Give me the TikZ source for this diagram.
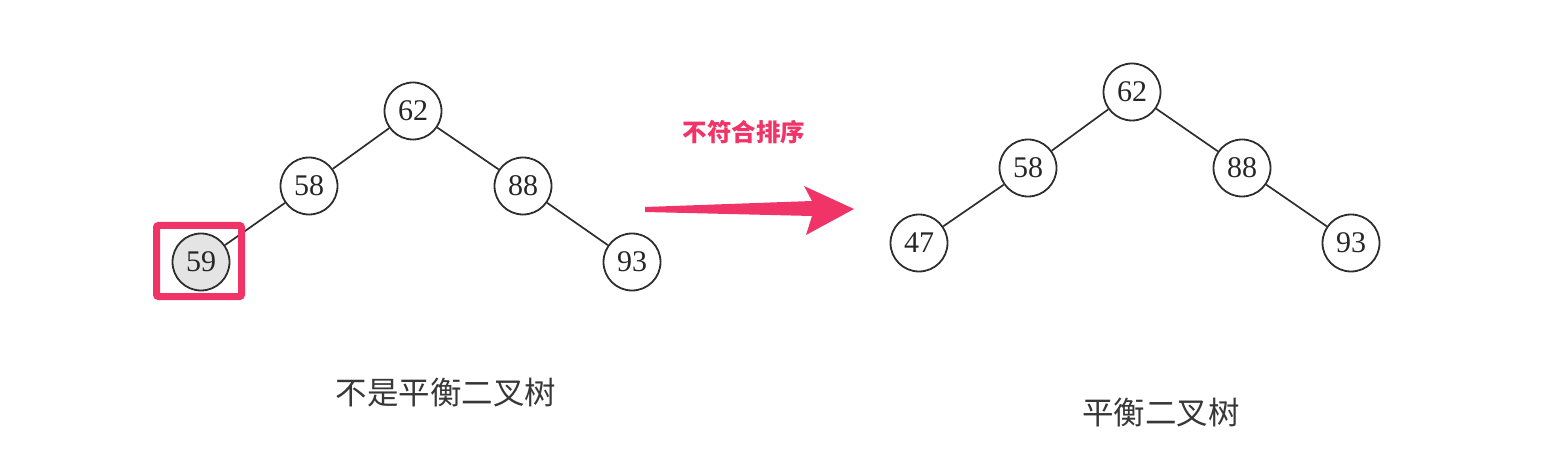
\documentclass[tikz,border=0pt]{standalone}
\usepackage{fontspec}
\setmainfont{Liberation Serif}
\newfontfamily\cjk{Noto Sans CJK SC}
\definecolor{pinkred}{RGB}{241,52,104}
\definecolor{linegray}{RGB}{45,45,45}
\definecolor{fillgray}{RGB}{228,228,228}
\definecolor{textgray}{RGB}{55,55,55}
\begin{document}
\begin{tikzpicture}[x=1pt,y=-1pt,
  treenode/.style={circle,draw=linegray,line width=1.8pt,minimum size=57pt,inner sep=0pt,
    font=\fontsize{30}{30}\selectfont,text=black!85},
  hinode/.style={treenode,fill=fillgray},
  edge/.style={draw=linegray,line width=1.7pt},
  caption/.style={font=\cjk\fontsize{31.5}{31.5}\selectfont,text=textgray},
  warnlabel/.style={font=\cjk\bfseries\fontsize{24.5}{24.5}\selectfont,text=pinkred},
  markbox/.style={draw=pinkred,line width=7pt,rounded corners=2pt}
]
\useasboundingbox (0,0) rectangle (1568,470);
% left tree
\node[treenode] (a62) at (413,111) {62};
\node[treenode] (a58) at (309,186) {58};
\node[treenode] (a88) at (523,186) {88};
\node[hinode]   (a59) at (201,262) {59};
\node[treenode] (a93) at (632,262) {93};
\draw[edge] (a62) -- (a58);
\draw[edge] (a62) -- (a88);
\draw[edge] (a58) -- (a59);
\draw[edge] (a88) -- (a93);
\node[markbox,minimum width=85pt,minimum height=71pt,inner sep=0pt] (box) at (199,261) {};
\node[caption] (cap1) at (446,393) {不是平衡二叉树};
% arrow
\node[warnlabel] (warn) at (744,132) {不符合排序};
\coordinate (tail) at (645,209.5);
\coordinate (tip) at (854,209);
\fill[pinkred] (tail) ++(0,-2.5) -- (812,201) -- (804,186) -- (tip) -- (806,235) -- (812,216) -- (645,212) -- cycle;
% right tree
\node[treenode] (b62) at (1132,92) {62};
\node[treenode] (b58) at (1028,168) {58};
\node[treenode] (b88) at (1242,168) {88};
\node[treenode] (b47) at (919,243) {47};
\node[treenode] (b93) at (1351,243) {93};
\draw[edge] (b62) -- (b58);
\draw[edge] (b62) -- (b88);
\draw[edge] (b58) -- (b47);
\draw[edge] (b88) -- (b93);
\node[caption] (cap2) at (1161,413) {平衡二叉树};
\end{tikzpicture}
\end{document}
